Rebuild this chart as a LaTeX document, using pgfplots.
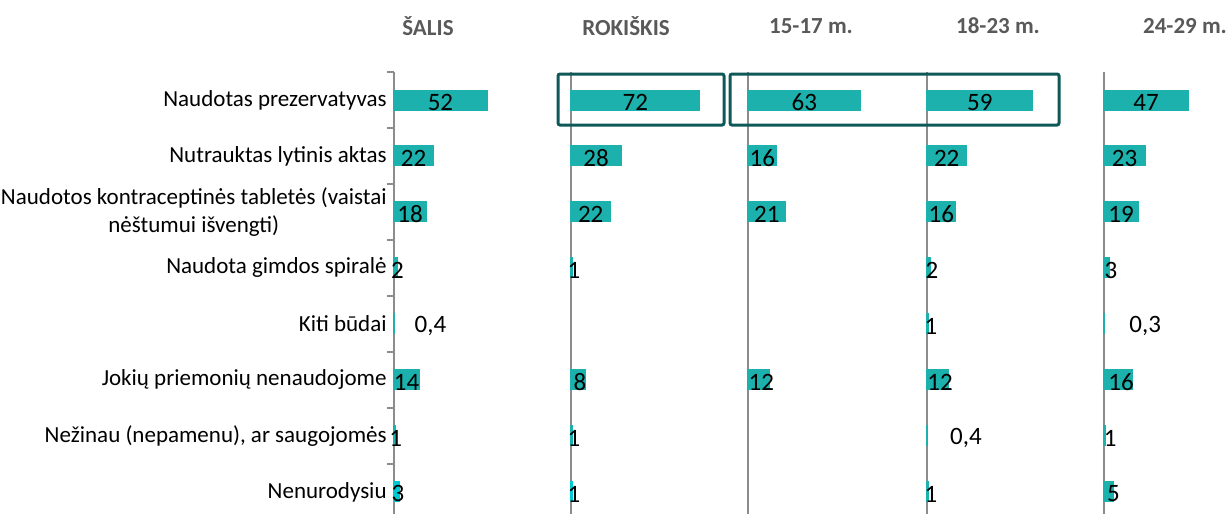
\documentclass[border=0pt]{standalone}
\usepackage{fontspec}
\setmainfont{Carlito}
\usepackage{pgfplots}
\pgfplotsset{compat=1.18}
\usepackage{pgfplotstable}

\definecolor{barteal}{RGB}{28,177,172}
\definecolor{barcyan}{RGB}{0,200,210}
\definecolor{boxteal}{RGB}{14,88,88}
\definecolor{axgray}{RGB}{140,140,140}
\definecolor{hdgray}{RGB}{89,89,89}

% y = row (0 = top), v = value, lx = label position, lab = label text
\pgfplotstableread{
y v lx lab
0 52 26 52
1 22 11 22
2 18 9 18
3 2 2 2
4 0.4 20.4 0,4
5 14 7 14
6 1 1 1
7 3 2.2 3
}\salis
\pgfplotstableread{
y v lx lab
0 72 36 72
1 28 14 28
2 22 11 22
3 1 1.7 1
5 8 5 8
6 1 1.7 1
7 1 1.7 1
}\rokiskis
\pgfplotstableread{
y v lx lab
0 63 31.5 63
1 16 8 16
2 21 10.5 21
5 12 7.5 12
}\aA
\pgfplotstableread{
y v lx lab
0 59 29.5 59
1 22 11 22
2 16 8 16
3 2 2.8 2
4 1 2.2 1
5 12 7.3 12
6 0.4 21.8 0,4
7 1 2.2 1
}\aB
\pgfplotstableread{
y v lx lab
0 47 23.5 47
1 23 11.5 23
2 19 9.5 19
3 3 3.9 3
4 0.3 23 0,3
5 16 9.5 16
6 1 3.4 1
7 5 5.3 5
}\aC

\pgfplotsset{
  panel/.style={
    scale only axis, width=89.4pt, height=220.9pt,
    anchor=north west,
    xmin=0, xmax=100, ymin=-0.5, ymax=7.39, y dir=reverse,
    axis x line=none, axis y line*=left,
    y axis line style={axgray, line width=1pt},
    xtick=\empty, ytick=\empty,
    clip=false, bar shift=0pt,
  },
  bars/.style={xbar, bar width=9.9pt, fill=#1, draw=#1, line width=0.6pt},
  labs/.style={only marks, mark=none, nodes near coords={\pgfplotspointmeta},
    point meta=explicit symbolic,
    nodes near coords style={anchor=center, yshift=-1pt, font=\fontsize{12.5}{14}\selectfont, text=black}},
}

\begin{document}
\begin{tikzpicture}
\useasboundingbox (0,0) rectangle (613pt,-257pt);

% SALIS, with category labels
\begin{axis}[panel, at={(197pt,-36pt)},
  ytick={0,...,7}, major tick length=0pt,
  minor ytick={-0.5,0.5,1.5,2.5,3.5,4.5,5.5,6.5},
  minor tick length=3.5pt, tick align=outside,
  minor tick style={axgray, line width=1pt},
  yticklabels={Naudotas prezervatyvas, Nutrauktas lytinis aktas,
    {Naudotos kontraceptinės tabletės (vaistai\\nėštumui išvengti)},
    Naudota gimdos spiralė, Kiti būdai, Jokių priemonių nenaudojome,
    {Nežinau (nepamenu), ar saugojomės}, Nenurodysiu},
  yticklabel style={anchor=east, inner sep=0pt, xshift=-3.5pt, align=center,
    font=\fontsize{11.5}{14}\selectfont, text=black},
]
\addplot[bars=barteal, skip coords between index={7}{8}] table[x=v, y=y] {\salis};
\addplot[bars=barcyan, skip coords between index={0}{7}] table[x=v, y=y] {\salis};
\addplot[labs] table[x=lx, y=y, meta=lab] {\salis};
\end{axis}

% ROKISKIS
\begin{axis}[panel, at={(285.5pt,-36pt)}]
\addplot[bars=barteal, skip coords between index={6}{7}] table[x=v, y=y] {\rokiskis};
\addplot[bars=barcyan, skip coords between index={0}{6}] table[x=v, y=y] {\rokiskis};
\addplot[labs] table[x=lx, y=y, meta=lab] {\rokiskis};
\end{axis}

% 15-17 m.
\begin{axis}[panel, at={(374pt,-36pt)}]
\addplot[bars=barteal] table[x=v, y=y] {\aA};
\addplot[labs] table[x=lx, y=y, meta=lab] {\aA};
\end{axis}

% 18-23 m.
\begin{axis}[panel, at={(463.5pt,-36pt)}]
\addplot[bars=barteal] table[x=v, y=y] {\aB};
\addplot[labs] table[x=lx, y=y, meta=lab] {\aB};
\end{axis}

% 24-29 m.
\begin{axis}[panel, at={(552pt,-36pt)}]
\addplot[bars=barteal] table[x=v, y=y] {\aC};
\addplot[labs] table[x=lx, y=y, meta=lab] {\aC};
\end{axis}

% column headers
\begin{scope}[every node/.style={font=\fontsize{11.5}{13}\selectfont\bfseries, text=hdgray}]
\node at (214pt,-13pt) {ŠALIS};
\node at (313pt,-13pt) {ROKIŠKIS};
\node at (405.5pt,-13pt) {15-17 m.};
\node at (499pt,-13pt) {18-23 m.};
\node at (592.5pt,-13pt) {24-29 m.};
\end{scope}

% highlight frames
\draw[boxteal, line width=1.5pt, rounded corners=1pt] (279pt,-37pt) rectangle (362pt,-62.5pt);
\draw[boxteal, line width=1.5pt, rounded corners=1pt] (365pt,-37pt) rectangle (529.5pt,-62.5pt);
\end{tikzpicture}
\end{document}
